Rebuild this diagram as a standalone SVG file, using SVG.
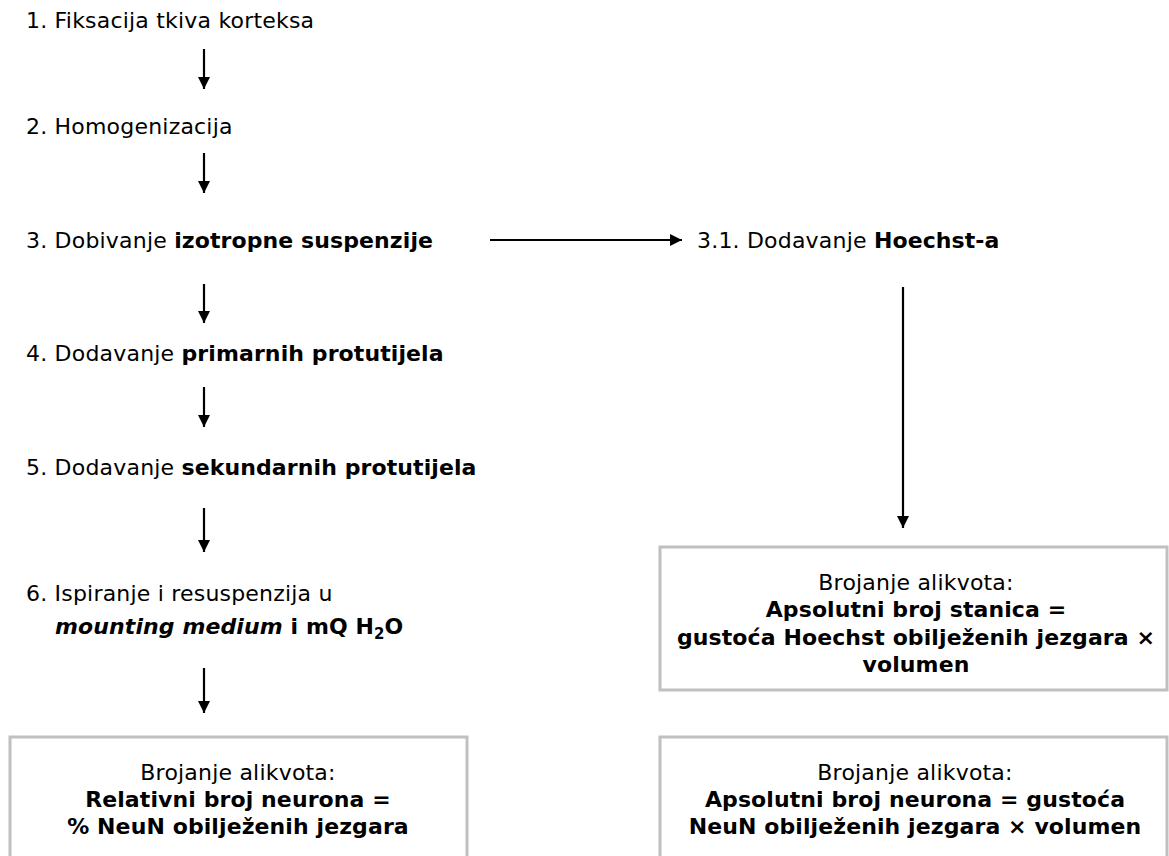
<svg xmlns="http://www.w3.org/2000/svg" width="1169" height="856" viewBox="0 0 1169 856">
<defs>
<marker id="ah" viewBox="0 0 12 12" refX="12" refY="6" markerWidth="12" markerHeight="12" markerUnits="userSpaceOnUse" orient="auto">
<path d="M0,0 L12,6 L0,12 Z" fill="#000"/>
</marker>
<style>
text{font-family:"DejaVu Sans","Verdana",sans-serif;font-size:22px;fill:#000;letter-spacing:0.2px}
.b{font-weight:bold;letter-spacing:0.1px}
.bi{font-weight:bold;font-style:italic;letter-spacing:0.1px}
.c{text-anchor:middle}
.box{fill:#fff;stroke:#c0c0c0;stroke-width:3}
.con{stroke:#000;stroke-width:2.2;fill:none;marker-end:url(#ah)}
</style>
</defs>
<rect width="1169" height="856" fill="#fff"/>
<g id="connectors">
<line class="con" x1="204" y1="49" x2="204" y2="89"/>
<line class="con" x1="204" y1="153" x2="204" y2="193"/>
<line class="con" x1="204" y1="284" x2="204" y2="323"/>
<line class="con" x1="204" y1="387" x2="204" y2="427"/>
<line class="con" x1="204" y1="508" x2="204" y2="552"/>
<line class="con" x1="204" y1="668" x2="204" y2="713"/>
<line class="con" x1="490" y1="240" x2="682" y2="240"/>
<line class="con" x1="903" y1="287" x2="903" y2="528"/>
</g>
<g id="n1"><text x="26" y="28">1. Fiksacija tkiva korteksa</text></g>
<g id="n2"><text x="26" y="134">2. Homogenizacija</text></g>
<g id="n3"><text x="26" y="248">3. Dobivanje <tspan class="b">izotropne suspenzije</tspan></text></g>
<g id="n31"><text x="697" y="248">3.1. Dodavanje <tspan class="b">Hoechst-a</tspan></text></g>
<g id="n4"><text x="26" y="361">4. Dodavanje <tspan class="b">primarnih protutijela</tspan></text></g>
<g id="n5"><text x="26" y="475">5. Dodavanje <tspan class="b">sekundarnih protutijela</tspan></text></g>
<g id="n6"><text x="26" y="601">6. Ispiranje i resuspenzija u</text>
<text x="55" y="634"><tspan class="bi">mounting medium</tspan><tspan class="b"> i mQ H</tspan><tspan class="b" font-size="15" dy="5">2</tspan><tspan class="b" dy="-5">O</tspan></text></g>
<g id="boxHoechst">
<rect class="box" x="660" y="547" width="507" height="143"/>
<text class="c" x="916" y="590">Brojanje alikvota:</text>
<text class="c b" x="916" y="617">Apsolutni broj stanica =</text>
<text class="c b" x="916" y="645">gustoća Hoechst obilježenih jezgara ×</text>
<text class="c b" x="916" y="672">volumen</text>
</g>
<g id="boxRel">
<rect class="box" x="10" y="737" width="457" height="130"/>
<text class="c" x="238" y="780">Brojanje alikvota:</text>
<text class="c b" x="238" y="807">Relativni broj neurona =</text>
<text class="c b" x="238" y="834">% NeuN obilježenih jezgara</text>
</g>
<g id="boxAbs">
<rect class="box" x="660" y="737" width="507" height="130"/>
<text class="c" x="915" y="780">Brojanje alikvota:</text>
<text class="c b" x="915" y="807">Apsolutni broj neurona = gustoća</text>
<text class="c b" x="915" y="834">NeuN obilježenih jezgara × volumen</text>
</g>
</svg>
